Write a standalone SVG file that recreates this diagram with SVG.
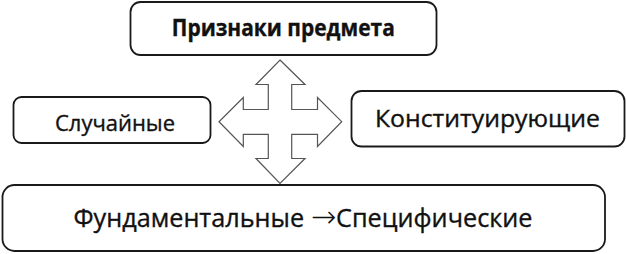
<svg xmlns="http://www.w3.org/2000/svg" width="626" height="254" viewBox="0 0 626 254">
<style>
.box{fill:#fff;stroke:#1a1a1a;stroke-width:1.8}
.t{font-family:"Open Sans","Noto Sans",sans-serif;fill:#111;text-anchor:middle;stroke:#111;stroke-width:0.35}
.arr{fill:#fff;stroke:#555;stroke-width:1.2;stroke-linejoin:miter}
.sym{font-family:"DejaVu Sans",sans-serif;font-weight:200;stroke-width:0}
</style>
<rect width="626" height="254" fill="#fff"/>
<g id="connectors">
<path class="arr" d="M280,60 L305,84.5 L291.7,84.5 L291.7,109.5 L317.5,109.5 L317.5,97.5 L341.7,121.7 L317.5,146.5 L317.5,134.3 L291.7,134.3 L291.7,158.5 L305,158.5 L280,183.5 L256,158.5 L268.3,158.5 L268.3,134.3 L243.3,134.3 L243.3,146.5 L219,121.7 L243.3,97.5 L243.3,109.5 L268.3,109.5 L268.3,84.5 L256,84.5 Z"/>
</g>
<g id="node-top">
<rect class="box" x="130.5" y="2" width="306" height="53" rx="10"/>
<text class="t" x="283.3" y="36" font-size="22.5" font-weight="bold" stroke-width="0" textLength="223" lengthAdjust="spacingAndGlyphs">Признаки предмета</text>
</g>
<g id="node-left">
<rect class="box" x="13.5" y="97" width="197" height="46" rx="8"/>
<text class="t" x="115" y="130.7" font-size="21" textLength="120" lengthAdjust="spacingAndGlyphs">Случайные</text>
</g>
<g id="node-right">
<rect class="box" x="351.5" y="91" width="273" height="55.5" rx="10"/>
<text class="t" x="487.5" y="126.7" font-size="23" textLength="225" lengthAdjust="spacingAndGlyphs">Конституирующие</text>
</g>
<g id="node-bottom">
<rect class="box" x="2.5" y="185" width="602.5" height="66" rx="12"/>
<text class="t" x="303" y="226.7" font-size="25" textLength="459" lengthAdjust="spacingAndGlyphs">Фундаментальные <tspan class="sym" font-size="30">→</tspan>Специфические</text>
</g>
</svg>
